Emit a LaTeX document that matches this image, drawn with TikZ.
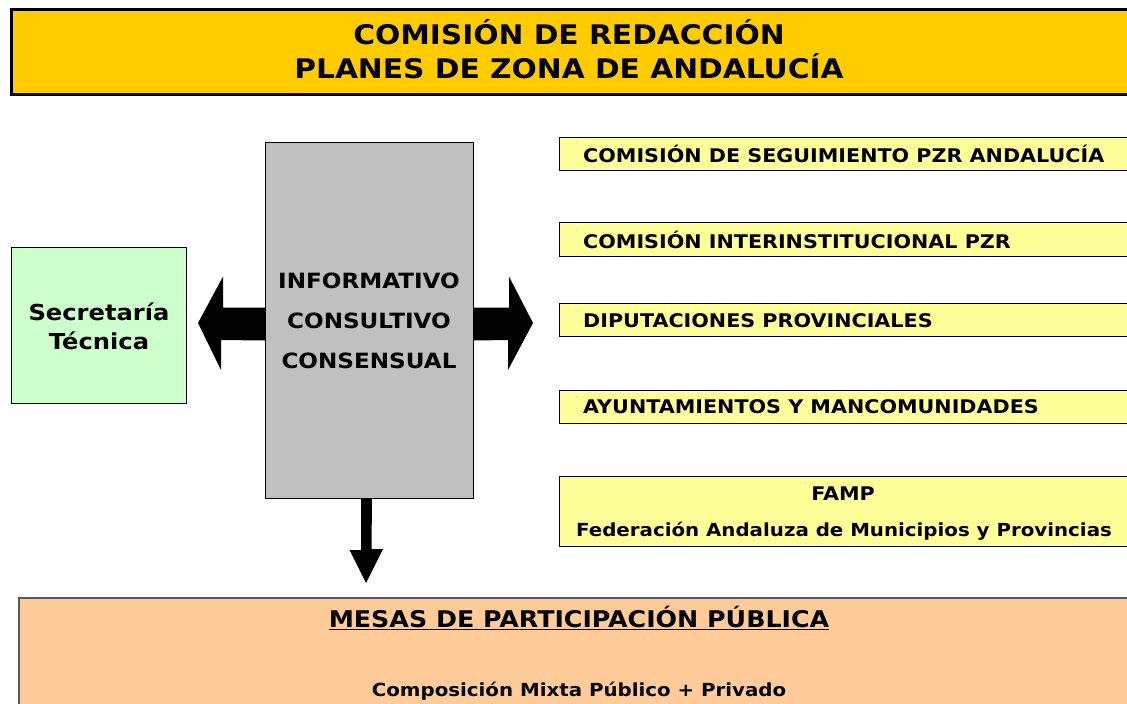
\documentclass[tikz,border=0pt]{standalone}
\usepackage{fontspec}
\setmainfont[FakeStretch=1.1]{DejaVu Sans}
\usetikzlibrary{calc}
\definecolor{titlefill}{HTML}{FFCC00}
\definecolor{secfill}{HTML}{CCFFCC}
\definecolor{grayfill}{HTML}{C0C0C0}
\definecolor{yelfill}{HTML}{FFFF99}
\definecolor{mesafill}{HTML}{FFCC99}
\tikzset{
  box/.style={rectangle, draw=black, line width=1pt, inner sep=0pt, anchor=north west},
  txt/.style={inner sep=0pt, font=\bfseries\fontsize{18.8}{22}\selectfont},
  ltxt/.style={txt, anchor=west},
  blockarrow/.style={fill=black, draw=none},
  stray/.style={inner sep=0pt, text=gray!35, font=\fontsize{10}{10}\selectfont},
}
\begin{document}
\begin{tikzpicture}[x=1pt,y=-1pt]
\useasboundingbox (0,0) rectangle (1127,704);
\clip (0,0) rectangle (1127,704);
% title
\node[box, fill=titlefill, line width=3pt, minimum width=1130pt, minimum height=85pt] (title) at (10,8) {};
\node[txt, align=center, font=\bfseries\fontsize{27}{33.5}\selectfont] (titletxt) at (569,49) {COMISIÓN DE REDACCIÓN\\PLANES DE ZONA DE ANDALUCÍA};
% secretaria
\node[box, fill=secfill, minimum width=175pt, minimum height=156pt] (sec) at (11,247) {};
\node[txt, align=center, font=\bfseries\fontsize{22}{29}\selectfont] (sectxt) at (99,326) {Secretaría\\Técnica};
% gray
\node[box, fill=grayfill, minimum width=208pt, minimum height=356pt] (gray) at (265,142) {};
\node[txt, align=center, font=\bfseries\fontsize{21}{40}\selectfont] (graytxt) at (369,321) {INFORMATIVO\\CONSULTIVO\\CONSENSUAL};
% right boxes
\node[box, fill=yelfill, minimum width=590pt, minimum height=33pt] (r1) at (559,137) {};
\node[box, fill=yelfill, minimum width=590pt, minimum height=34pt] (r2) at (559,222) {};
\node[box, fill=yelfill, minimum width=590pt, minimum height=33pt] (r3) at (559,303) {};
\node[box, fill=yelfill, minimum width=590pt, minimum height=33pt] (r4) at (559,390) {};
\node[box, fill=yelfill, minimum width=590pt, minimum height=70pt] (r5) at (559,476) {};
\node[ltxt] (t1) at (583,153.5) {COMISIÓN DE SEGUIMIENTO PZR ANDALUCÍA};
\node[ltxt] (t2) at (583,240) {COMISIÓN INTERINSTITUCIONAL PZR};
\node[ltxt] (t3) at (583,320.5) {DIPUTACIONES PROVINCIALES};
\node[ltxt] (t4) at (583,407) {AYUNTAMIENTOS Y MANCOMUNIDADES};
\node[txt] (t5a) at (843,494) {FAMP};
\node[txt, font=\bfseries\fontsize{18}{22}\selectfont] (t5b) at (844,531) {Federación Andaluza de Municipios y Provincias};
\node[stray] (s1) at (576,146) {´};
\node[stray] (s2) at (576,233) {´};
\node[stray] (s3) at (576,314) {´};
\node[stray] (s4) at (576,400) {´};
\node[stray] (s5) at (805,486) {´};
% bottom
\node[box, fill=mesafill, draw=black!65, line width=2pt, minimum width=1130pt, minimum height=130pt] (mesa) at (18,597) {};
\node[txt, font=\bfseries\fontsize{23}{27}\selectfont] (mesatxt) at (579,618) {\underline{MESAS DE PARTICIPACIÓN PÚBLICA}};
\node[txt, font=\bfseries\fontsize{18}{21}\selectfont] (comptxt) at (579,691) {Composición Mixta Público + Privado};
% block arrows
\fill[blockarrow] ($(gray.west)+(0,-13)$) -- ++(-42,0) -- ++(0,-31) -- (198,323) -- (221,370) -- ++(0,-30) -- ($(gray.west)+(0,20)$) -- cycle;
\fill[blockarrow] ($(gray.east)+(0,-13)$) -- ++(35,0) -- ++(0,-31) -- (533,323) -- (508,370) -- ++(0,-30) -- ($(gray.east)+(0,20)$) -- cycle;
\coordinate (downtip) at ($(mesa.north west)+(348,-14)$);
\fill[blockarrow] ($(gray.south)+(-8.5,0)$) -- ++(0,51) -- ++(-11.5,0) -- (downtip) -- ++(17,-34) -- ++(-11.5,0) -- ($(gray.south)+(2.5,0)$) -- cycle;
\end{tikzpicture}
\end{document}
